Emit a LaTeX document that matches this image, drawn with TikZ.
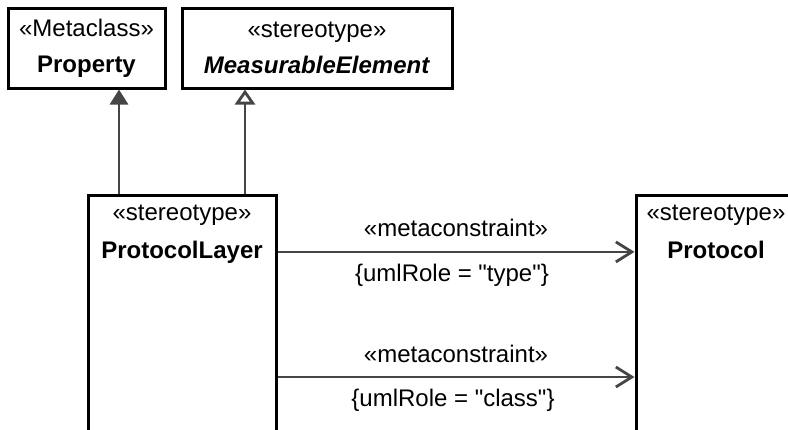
\documentclass[tikz,border=0pt]{standalone}
\usepackage{fontspec}
\setmainfont{Liberation Sans}[Ligatures=TeXOff]
\usepackage{xcolor}
\usepackage{tikz}
\usetikzlibrary{arrows.meta,positioning,fit}

\definecolor{linegray}{HTML}{454545}

\begin{document}
\begin{tikzpicture}[
  x=0.5pt, y=-0.5pt,
  node distance=2mm,
  classbox/.style={draw=black, line width=1.5pt, inner sep=0pt, align=center,
    font=\fontsize{12}{18}\selectfont},
  txt/.style={inner sep=0pt, text height=8.8pt, text depth=2.6pt,
    font=\fontsize{12}{18}\selectfont},
  cname/.style={txt, font=\fontsize{12}{18}\selectfont\bfseries},
  link/.style={draw=linegray, line width=1.4pt},
  genfilled/.style={link, -{Triangle[length=7.5pt, width=9pt]}},
  genopen/.style={link, -{Triangle[open, length=7.5pt, width=10pt]}},
  metaarrow/.style={link, -{Straight Barb[length=8pt, width=10pt]}}
]
\useasboundingbox (0,0) rectangle (788,429);
\clip (0,0) rectangle (788,429);
% upper classes
\node[classbox, minimum width=78.5pt, minimum height=40pt] (prop) at (86.5,48)
  {«Metaclass»\\\textbf{Property}};
\node[classbox, minimum width=135pt, minimum height=40pt] (measurable) at (317,48)
  {«stereotype»\\\textbf{\textit{MeasurableElement}}};
% lower classes (cut by the picture border)
\node[classbox, fit={(88,195) (276,470)}] (layer) {};
\node[classbox, fit={(636,195) (796,470)}] (protocol) {};
\node[txt, below=4.5pt of layer.north] (layerSt) {«stereotype»};
\node[cname, below=7pt of layerSt] (layerName) {ProtocolLayer};
\node[txt, below=4.5pt of protocol.north] (protocolSt) {«stereotype»};
\node[cname, below=7pt of protocolSt] (protocolName) {Protocol};
\coordinate (low) at (0,377);
% generalizations
\draw[genfilled] ([xshift=-31.5pt]layer.north) -- ([xshift=-31.5pt]layer.north |- prop.south);
\draw[genopen] ([xshift=31.5pt]layer.north) -- ([xshift=31.5pt]layer.north |- measurable.south);
% metaconstraints
\draw[metaarrow] (layerName -| layer.east) -- (layerName -| protocol.west)
  node[txt, midway, above=4.2pt] (meta1) {«metaconstraint»}
  node[txt, midway, below=5.2pt, xshift=-2pt] (role1) {\{umlRole = "type"\}};
\draw[metaarrow] (low -| layer.east) -- (low -| protocol.west)
  node[txt, midway, above=4.2pt] (meta2) {«metaconstraint»}
  node[txt, midway, below=5.2pt, xshift=-1.5pt] (role2) {\{umlRole = "class"\}};
\end{tikzpicture}
\end{document}
